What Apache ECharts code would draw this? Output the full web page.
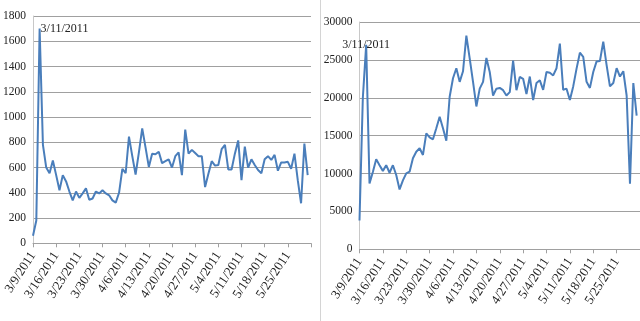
<!DOCTYPE html>
<html><head><meta charset="utf-8">
<script src="https://cdn.jsdelivr.net/npm/echarts@6/dist/echarts.min.js"></script>
<style>html,body{margin:0;padding:0;background:#fff}#c{width:640px;height:321px}</style>
</head><body><div id="c"></div>
<script>
const dates = [
 '3/9/2011','3/10/2011','3/11/2011','3/12/2011','3/13/2011','3/14/2011','3/15/2011','3/16/2011','3/17/2011','3/18/2011',
 '3/19/2011','3/20/2011','3/21/2011','3/22/2011','3/23/2011','3/24/2011','3/25/2011','3/26/2011','3/27/2011','3/28/2011',
 '3/29/2011','3/30/2011','3/31/2011','4/1/2011','4/2/2011','4/3/2011','4/4/2011','4/5/2011','4/6/2011','4/7/2011',
 '4/8/2011','4/9/2011','4/10/2011','4/11/2011','4/12/2011','4/13/2011','4/14/2011','4/15/2011','4/16/2011','4/17/2011',
 '4/18/2011','4/19/2011','4/20/2011','4/21/2011','4/22/2011','4/23/2011','4/24/2011','4/25/2011','4/26/2011','4/27/2011',
 '4/28/2011','4/29/2011','4/30/2011','5/1/2011','5/2/2011','5/3/2011','5/4/2011','5/5/2011','5/6/2011','5/7/2011',
 '5/8/2011','5/9/2011','5/10/2011','5/11/2011','5/12/2011','5/13/2011','5/14/2011','5/15/2011','5/16/2011','5/17/2011',
 '5/18/2011','5/19/2011','5/20/2011','5/21/2011','5/22/2011','5/23/2011','5/24/2011','5/25/2011','5/26/2011','5/27/2011',
 '5/28/2011','5/29/2011','5/30/2011','5/31/2011','6/1/2011'
];
const leftValues = [
 60,180,1700,780,600,555,655,540,420,540,
 490,410,340,410,360,395,435,345,355,410,
 395,420,395,380,340,322,400,590,555,845,
 690,545,720,910,760,605,710,705,725,635,
 650,665,600,690,720,540,900,710,740,715,
 690,690,445,550,650,615,620,745,780,585,
 585,710,815,500,765,600,665,620,580,555,
 665,690,660,700,575,640,640,645,590,710,
 500,317,790,540
];
const rightValues = [
 3800,20000,27000,8700,10200,11900,11100,10350,11100,10100,
 11100,9800,7900,9100,10030,10240,12010,12880,13330,12450,
 15310,14780,14520,15970,17500,15970,14330,20140,22570,23890,
 22100,23500,28200,25200,22100,18850,21200,22100,25250,23400,
 20300,21200,21300,21000,20300,20750,24900,21000,22750,22500,
 20500,22800,19700,21950,22300,21050,23400,23300,22950,23900,
 27150,21050,21200,19700,21500,23850,25950,25400,22100,21300,
 23400,24800,24850,27400,24300,21500,21950,23900,22800,23500,
 20300,8670,21950,17650
];
const leftAxis = {min: 0, max: 1800, interval: 200};
const rightAxis = {min: 0, max: 30000, interval: 5000};
const annotationDate = '3/11/2011';
const leftPeak = 1700;
const rightPeak = 27000;

const FONT = 'Liberation Serif';
const LINE = '#4a7ebb';
const GRIDC = '#a0a0a0';

function xAxisCfg(gi) {
  return {
    type: 'category', gridIndex: gi, data: dates, boundaryGap: false,
    axisLine: {show: true, lineStyle: {color: '#a0a0a0', width: 1}},
    axisTick: {show: true, length: 4, inside: false, interval: (i) => i % 7 === 0, lineStyle: {color: '#a0a0a0'}},
    axisLabel: {interval: (i) => i % 7 === 0 && i < 84, rotate: 57, margin: 10,
      fontFamily: FONT, fontSize: 13, color: '#222'},
    splitLine: {show: false}
  };
}
function yAxisCfg(gi, a) {
  return {
    type: 'value', gridIndex: gi, min: a.min, max: a.max, interval: a.interval,
    axisLine: {show: true, lineStyle: {color: '#c8c8c8'}},
    axisTick: {show: false},
    axisLabel: {fontFamily: FONT, fontSize: 11.5, color: '#222', margin: 7, formatter: (v) => String(v)},
    splitLine: {show: true, lineStyle: {color: GRIDC, width: 1}}
  };
}

const chart = echarts.init(document.getElementById('c'), null, {renderer: 'canvas'});
chart.setOption({
  animation: false,
  backgroundColor: '#fff',
  grid: [
    {left: 29, top: 16, width: 282, height: 227.3},
    {left: 359.5, top: 22, width: 280.5, height: 227.3}
  ],
  xAxis: [xAxisCfg(0), xAxisCfg(1)],
  yAxis: [yAxisCfg(0, leftAxis), yAxisCfg(1, rightAxis)],
  graphic: [{type: 'line', shape: {x1: 320.5, y1: 0, x2: 320.5, y2: 321}, style: {stroke: '#d4d4d4', lineWidth: 1}}],
  series: [
    {type: 'line', xAxisIndex: 0, yAxisIndex: 0, data: leftValues, symbol: 'none',
     lineStyle: {color: LINE, width: 2}, itemStyle: {color: LINE},
     markPoint: {symbol: 'circle', symbolSize: 0, data: [{coord: [annotationDate, leftPeak],
       label: {show: true, position: 'right', distance: 1, formatter: annotationDate, fontFamily: FONT, fontSize: 12, color: '#222'}}]}},
    {type: 'line', xAxisIndex: 1, yAxisIndex: 1, data: rightValues, symbol: 'none',
     lineStyle: {color: LINE, width: 2}, itemStyle: {color: LINE},
     markPoint: {symbol: 'circle', symbolSize: 0, data: [{coord: [annotationDate, rightPeak],
       label: {show: true, position: 'inside', formatter: annotationDate, fontFamily: FONT, fontSize: 12, color: '#222'}}]}}
  ]
});
</script></body></html>
